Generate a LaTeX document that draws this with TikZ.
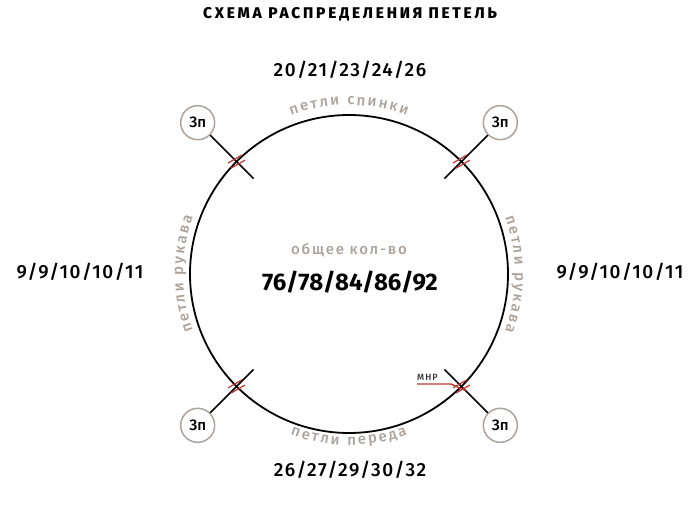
\documentclass[tikz,border=0pt]{standalone}
\usepackage{fontspec}
\setmainfont{Fira Sans}
\newfontfamily\medfont{Fira Sans Medium}
\newfontfamily\heavyfont{Fira Sans ExtraBold}
\usetikzlibrary{calc,decorations.text}

\definecolor{loopgray}{RGB}{172,164,156}
\definecolor{markred}{RGB}{192,52,44}

\tikzset{
  ring/.style={line width=1.8pt},
  stick/.style={line width=1.6pt},
  redmark/.style={draw=markred, line width=1.2pt},
  loopcount/.style={circle, draw=loopgray, line width=1.5pt, minimum size=34pt, inner sep=0pt, fill=white,
    font=\fontsize{15}{15}\selectfont\medfont},
  sizes/.style={font=\fontsize{19}{19}\selectfont\medfont\addfontfeature{LetterSpace=8}},
  arclabel/.style={decorate, decoration={text along path, text align=fit to path, text color=loopgray,
    text={|\fontsize{15}{15}\selectfont\medfont|#1}}},
}

\begin{document}
\begin{tikzpicture}[x=1pt,y=1pt]
  \useasboundingbox (0,0) rectangle (699,504);
  \coordinate (O) at (349,230);

  % title and counts
  \node (title) at (350,490) {\fontsize{15.5}{15.5}\selectfont\heavyfont\addfontfeature{LetterSpace=18}СХЕМА РАСПРЕДЕЛЕНИЯ ПЕТЕЛЬ};
  \node[sizes] (back) at (350,434) {20/21/23/24/26};
  \node[sizes] (front) at (350,34) {26/27/29/30/32};
  \node[sizes] (sleevel) at (80,232) {9/9/10/10/11};
  \node[sizes] (sleever) at (620,232) {9/9/10/10/11};
  \node[text=loopgray, font=\fontsize{15}{15}\selectfont\medfont\addfontfeature{LetterSpace=12}] (totaltxt) at (349,254) {общее кол-во};
  \node[font=\fontsize{24}{24}\selectfont\bfseries] (total) at (350,222) {76/78/84/86/92};

  \draw[ring] (O) circle (159);

  % ring labels
  \path[arclabel={петли спинки}] ($(O)+(110:169)$) arc[start angle=110, end angle=70, radius=169];
  \path[arclabel={петли переда}] ($(O)+(250:171)$) arc[start angle=250, end angle=290, radius=171];
  \path[arclabel={петли рукава}] ($(O)+(200:166)$) arc[start angle=200, end angle=160, radius=166];
  \path[arclabel={петли рукава}] ($(O)+(20:166)$) arc[start angle=20, end angle=-20, radius=166];

  % raglan lines
  \foreach \a/\n in {135/tl,45/tr,225/bl,-45/br}{
    \node[loopcount] (z\n) at ($(O)+(\a:214)$) {Зп};
    \coordinate (in\n) at ($(O)+(\a:135)$);
    \draw[stick] (z\n) -- (in\n);
    \begin{scope}[shift={($(O)+(\a:159)$)}, rotate=30]
      \draw[redmark] (-8,3) -- (8,3) (-8,-3) -- (8,-3);
    \end{scope}
  }

  % start of round
  \coordinate (mnr) at (417,120);
  \draw[redmark, line width=1.4pt] (mnr) -- ++(34,0) -- ($(O)+(-45:165)$);
  \node[anchor=south west, inner sep=0pt, text=black!80, font=\fontsize{9}{9}\selectfont\medfont\addfontfeature{LetterSpace=12}] (mnrtxt) at (417,123) {МНР};
\end{tikzpicture}
\end{document}
